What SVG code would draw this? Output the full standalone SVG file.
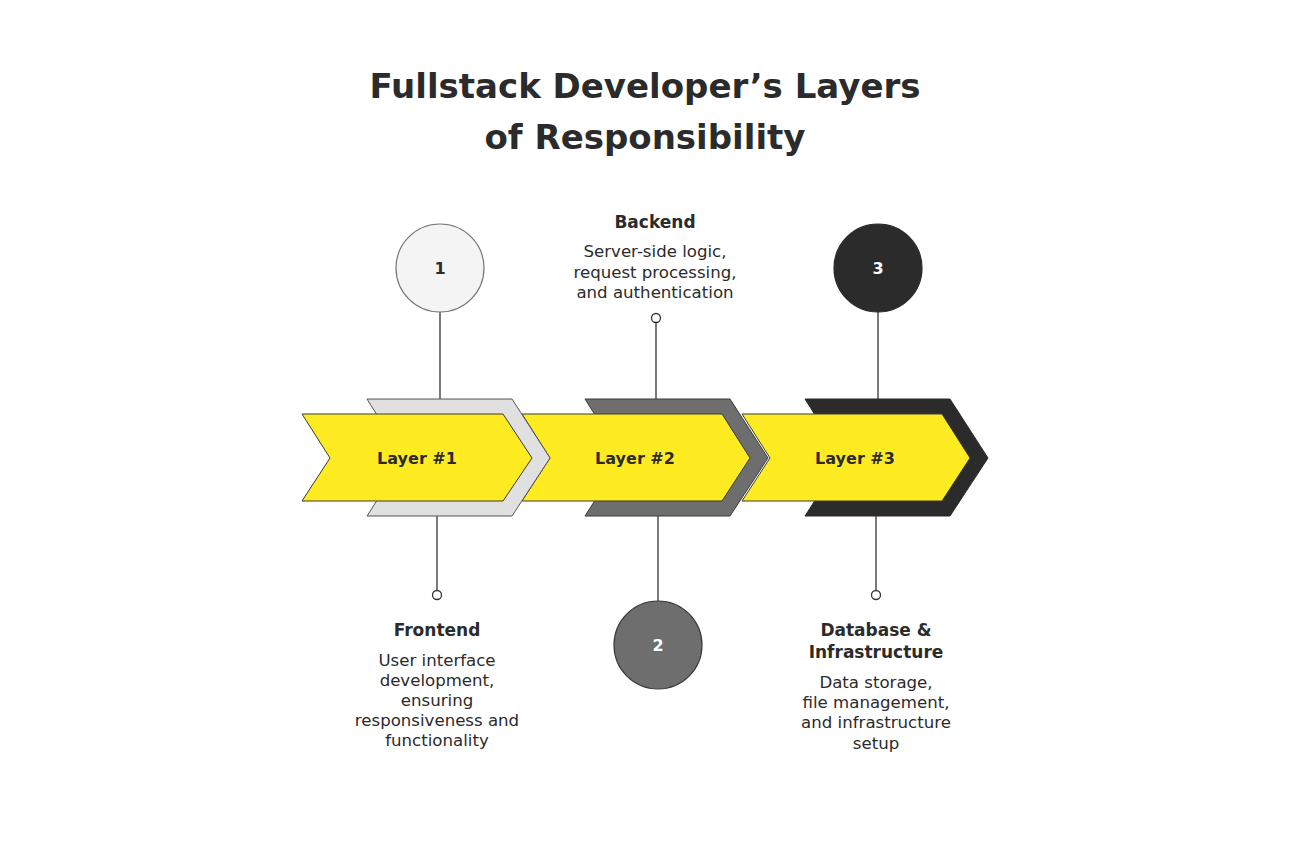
<svg xmlns="http://www.w3.org/2000/svg" width="1300" height="848" viewBox="0 0 1300 848">
<style>
.t{font-family:"DejaVu Sans","Liberation Sans",sans-serif;fill:#2b2b2b;text-anchor:middle}
.title{font-size:34px;font-weight:bold}
.h{font-size:17px;font-weight:bold}
.b{font-size:16.6px}
.lab{font-size:16px;font-weight:bold}
.num{font-size:16px;font-weight:bold}
.y{fill:#ffeb22;stroke:#3a3a3a;stroke-width:1}
.ln{stroke:#333;stroke-width:1.3;fill:none}
.dot{fill:#fff;stroke:#333;stroke-width:1.3}
</style>
<rect width="1300" height="848" fill="#fff"/>
<text class="t title" x="645" y="98">Fullstack Developer’s Layers</text>
<text class="t title" x="645" y="149">of Responsibility</text>
<g id="connectors">
<line class="ln" x1="440" y1="312" x2="440" y2="399"/>
<line class="ln" x1="437" y1="515" x2="437" y2="591"/>
<circle class="dot" cx="437" cy="595" r="4.5"/>
<line class="ln" x1="656" y1="322" x2="656" y2="399"/>
<circle class="dot" cx="656" cy="318" r="4.5"/>
<line class="ln" x1="658" y1="515" x2="658" y2="601"/>
<line class="ln" x1="878" y1="312" x2="878" y2="399"/>
<line class="ln" x1="876" y1="515" x2="876" y2="591"/>
<circle class="dot" cx="876" cy="595" r="4.5"/>
</g>
<g id="layer3">
<path d="M805,399 H950 L988,458 L950,516 H805 L842,458 Z" fill="#2b2b2b" stroke="#2b2b2b"/>
<path class="y" d="M742,414 H942 L970,458 L942,501 H742 L770,458 Z"/>
<text class="t lab" x="855" y="464">Layer #3</text>
</g>
<g id="layer2">
<path d="M585,399 H730 L768,458 L730,516 H585 L622,458 Z" fill="#6e6e6e" stroke="#3a3a3a"/>
<path class="y" d="M522,414 H722 L750,458 L722,501 H522 L550,458 Z"/>
<text class="t lab" x="635" y="464">Layer #2</text>
</g>
<g id="layer1">
<path d="M367,399 H512 L550,458 L512,516 H367 L404,458 Z" fill="#e0e0e0" stroke="#555"/>
<path class="y" d="M302,414 H503 L532,458 L503,501 H302 L330,458 Z"/>
<text class="t lab" x="417" y="464">Layer #1</text>
</g>
<g id="circle1">
<circle cx="440" cy="268" r="44" fill="#f4f4f4" stroke="#777" stroke-width="1.2"/>
<text class="t num" x="440" y="274">1</text>
</g>
<g id="circle2">
<circle cx="658" cy="645" r="44" fill="#6e6e6e" stroke="#3a3a3a" stroke-width="1.2"/>
<text class="t num" x="658" y="651" style="fill:#fff">2</text>
</g>
<g id="circle3">
<circle cx="878" cy="268" r="44" fill="#2b2b2b" stroke="#2b2b2b" stroke-width="1.2"/>
<text class="t num" x="878" y="274" style="fill:#fff">3</text>
</g>
<g id="backend">
<text class="t h" x="655" y="228">Backend</text>
<text class="t b" x="655" y="257">Server-side logic,</text>
<text class="t b" x="655" y="278">request processing,</text>
<text class="t b" x="655" y="298">and authentication</text>
</g>
<g id="frontend">
<text class="t h" x="437" y="636">Frontend</text>
<text class="t b" x="437" y="666">User interface</text>
<text class="t b" x="437" y="686">development,</text>
<text class="t b" x="437" y="706">ensuring</text>
<text class="t b" x="437" y="726">responsiveness and</text>
<text class="t b" x="437" y="746">functionality</text>
</g>
<g id="database">
<text class="t h" x="876" y="636">Database &amp;</text>
<text class="t h" x="876" y="658">Infrastructure</text>
<text class="t b" x="876" y="688">Data storage,</text>
<text class="t b" x="876" y="708">file management,</text>
<text class="t b" x="876" y="728">and infrastructure</text>
<text class="t b" x="876" y="749">setup</text>
</g>
</svg>
